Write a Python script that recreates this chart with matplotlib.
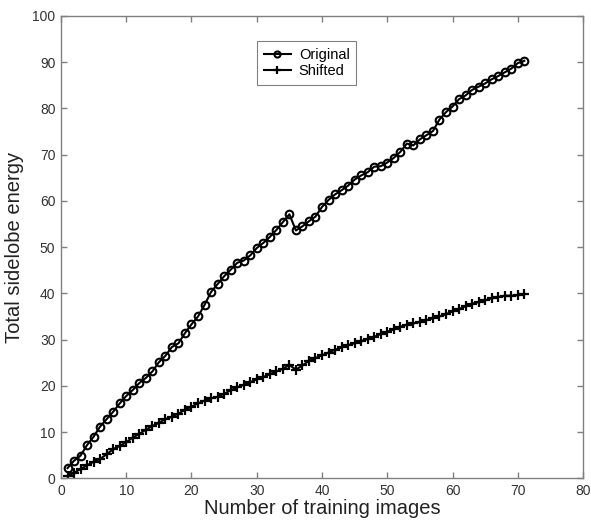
import matplotlib
matplotlib.use("Agg")
import matplotlib.pyplot as plt

plt.rcParams['font.family'] = ['Liberation Sans', 'DejaVu Sans']

# training set size 1..71
n_images = list(range(1, 72))

original = [2.2, 3.8, 4.9, 7.2, 9.0, 11.2, 12.8, 14.4, 16.2, 17.8,
            19.1, 20.6, 21.7, 23.1, 25.1, 26.5, 28.4, 29.2, 31.4, 33.3,
            35.0, 37.5, 40.3, 42.0, 43.7, 45.1, 46.6, 47.1, 48.2, 49.8,
            50.9, 52.2, 53.7, 55.4, 57.1, 53.6, 54.5, 55.6, 56.6, 58.7,
            60.2, 61.4, 62.3, 63.3, 64.6, 65.5, 66.2, 67.4, 67.5, 68.3,
            69.3, 70.6, 72.4, 72.0, 73.3, 74.2, 75.1, 77.6, 79.2, 80.4,
            82.0, 82.8, 84.0, 84.7, 85.4, 86.3, 87.0, 87.8, 88.6, 89.8,
            90.3]

shifted = [0.5, 1.2, 2.0, 2.8, 3.6, 4.2, 5.2, 6.3, 7.0, 7.8,
           8.8, 9.6, 10.5, 11.3, 12.0, 12.8, 13.3, 14.0, 14.8, 15.5,
           16.2, 16.8, 17.3, 17.6, 18.3, 19.0, 19.7, 20.2, 20.8, 21.4,
           21.9, 22.5, 23.1, 23.7, 24.5, 23.5, 24.4, 25.4, 26.0, 26.6,
           27.2, 27.8, 28.3, 28.8, 29.2, 29.7, 30.1, 30.6, 31.2, 31.7,
           32.2, 32.8, 33.2, 33.5, 33.8, 34.2, 34.6, 35.0, 35.5, 36.1,
           36.6, 37.2, 37.8, 38.1, 38.5, 38.9, 39.2, 39.5, 39.5, 39.6,
           39.8]

grey = '#808080'

fig = plt.figure(figsize=(5.91, 5.26), dpi=100)
ax = fig.add_axes([0.1032, 0.0907, 0.8833, 0.879])

ax.plot(n_images, original, color='black', lw=1.5, marker='o', ms=5.5,
        mfc='none', mew=1.5, label='Original')
ax.plot(n_images, shifted, color='black', lw=1.5, marker='+', ms=7,
        mew=1.6, label='Shifted')

ax.set_xlim(0, 80)
ax.set_ylim(0, 100)
ax.set_xticks(range(0, 81, 10))
ax.set_yticks(range(0, 101, 10))

for s in ax.spines.values():
    s.set_color(grey)
    s.set_linewidth(1.0)
ax.tick_params(direction='in', top=True, right=True, length=4, width=1,
               color=grey, labelsize=10, labelcolor='#333333', pad=4)

ax.set_xlabel('Number of training images', fontsize=14.5, color='#222222', labelpad=1)
ax.set_ylabel('Total sidelobe energy', fontsize=14.5, color='#222222', labelpad=6)

leg = ax.legend(loc='upper left', bbox_to_anchor=(0.376, 0.945), borderaxespad=0,
                fancybox=False, edgecolor=grey, fontsize=10.5, handlelength=1.85,
                handletextpad=0.55, borderpad=0.45, labelspacing=0.15,
                markerscale=0.8, framealpha=1)
leg.get_frame().set_linewidth(0.8)

fig.savefig('out.png', dpi=100)
